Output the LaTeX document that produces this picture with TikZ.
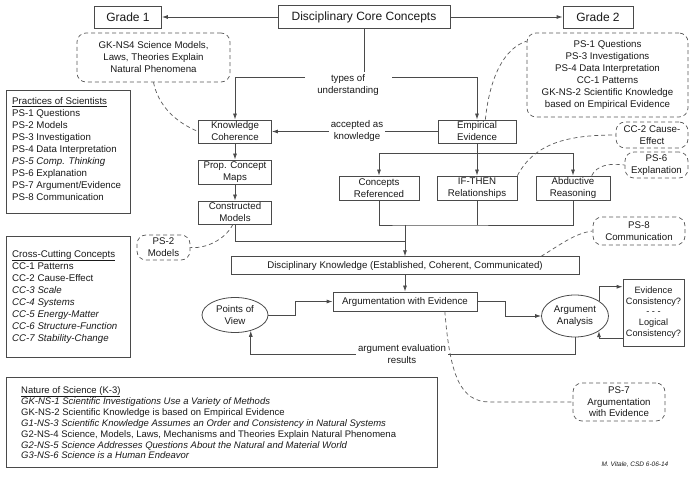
\documentclass[tikz,border=0pt]{standalone}
\usepackage{fontspec}
\setmainfont{Liberation Sans}
\usetikzlibrary{arrows.meta,calc,shapes.geometric}
\definecolor{lc}{HTML}{4A4A4A}
\definecolor{dc}{HTML}{5A5A5A}
\definecolor{tc}{HTML}{1A1A1A}
\begin{document}
\begin{tikzpicture}[x=1pt,y=-1pt,
  every node/.style={font=\fontsize{9.7}{12}\selectfont, text=tc},
  big/.style={font=\fontsize{12}{14}\selectfont},
  box/.style={draw=lc, line width=0.8pt, align=center, inner sep=0pt},
  callout/.style={draw=dc, line width=0.7pt, dash pattern=on 4pt off 3pt, rounded corners=9pt, align=center, inner sep=0pt},
  ell/.style={ellipse, draw=lc, line width=0.8pt, align=center, inner sep=0pt},
  frame/.style={draw=lc, line width=0.8pt, anchor=north west, inner sep=0pt},
  conn/.style={draw=lc, line width=0.8pt},
  arr/.style={conn, -{Latex[length=6pt,width=4pt]}},
  dconn/.style={draw=dc, line width=0.7pt, dash pattern=on 4pt off 3pt},
  lbl/.style={align=center, inner sep=2pt},
  listtext/.style={align=left, inner sep=0pt, anchor=north west},
]
\useasboundingbox[fill=white] (0,0) rectangle (694,481);

% top row
\node[box, big, minimum width=67pt, minimum height=22pt] (g1) at (128,17) {Grade 1};
\node[box, big, minimum width=172pt, minimum height=23pt] (dcc) at (364,17) {Disciplinary Core Concepts};
\node[box, big, minimum width=70pt, minimum height=22pt] (g2) at (598,17) {Grade 2};
\draw[arr] (dcc.west) -- (g1.east);
\draw[arr] (dcc.east) -- (g2.west);

% callouts
\node[callout, minimum width=153pt, minimum height=49pt] (ck) at (153.5,57.5) {GK-NS4 Science Models,\\Laws, Theories Explain\\Natural Phenomena};
\node[callout, minimum width=161pt, minimum height=84pt] (g2c) at (607.5,75) {PS-1 Questions\\PS-3 Investigations\\PS-4 Data Interpretation\\CC-1 Patterns\\GK-NS-2 Scientific Knowledge\\based on Empirical Evidence};
\node[callout, minimum width=72pt, minimum height=26pt] (cc2) at (652,135) {CC-2 Cause-\\Effect};
\node[callout, minimum width=63pt, minimum height=26pt] (ps6) at (656.5,165) {PS-6\\Explanation};
\node[callout, minimum width=92pt, minimum height=28pt] (ps8) at (639,231) {PS-8\\Communication};
\node[callout, minimum width=53pt, minimum height=25pt] (ps2) at (163.5,247.5) {PS-2\\Models};
\node[callout, minimum width=92pt, minimum height=38pt, font=\fontsize{9.7}{11.5}\selectfont] (ps7) at (619,402) {PS-7\\Argumentation\\with Evidence};

% types of understanding
\node[lbl] (types) at (348,85) {types of\\understanding};
\coordinate (tl) at (305,77);
\coordinate (tr) at (392,77);
\draw[conn] (dcc.south) -- (dcc.south |- types.north);

% left chain
\node[box, minimum width=73pt, minimum height=23pt] (kc) at (235,131.5) {Knowledge\\Coherence};
\node[box, minimum width=73pt, minimum height=24pt] (pcm) at (235,172) {Prop. Concept\\Maps};
\node[box, minimum width=73pt, minimum height=23pt] (cm) at (235,212.5) {Constructed\\Models};
\draw[arr] (tl) -| (kc.north);
\draw[arr] (kc) -- (pcm);
\draw[arr] (pcm) -- (cm);

% right chain
\node[box, minimum width=78pt, minimum height=23pt] (ee) at (477,131.5) {Empirical\\Evidence};
\draw[arr] (tr) -| (ee.north);
\node[lbl] (acc) at (357,131) {accepted as\\knowledge};
\draw[conn] (ee.west) -- (ee.west -| acc.east);
\draw[arr] (kc.east -| acc.west) -- (kc.east);

\node[box, minimum width=80pt, minimum height=24pt] (cr) at (379,188) {Concepts\\Referenced};
\node[box, minimum width=80pt, minimum height=24pt] (ift) at (477,188) {IF-THEN\\Relationships};
\node[box, minimum width=74pt, minimum height=24pt] (ar) at (573,188) {Abductive\\Reasoning};
\coordinate (eb) at (477,153);
\draw[conn] (ee.south) -- (eb);
\draw[arr] (eb) -| (cr.north);
\draw[arr] (eb) -| (ar.north);
\draw[arr] (eb) -- (ift.north);

% merge into disciplinary knowledge
\node[box, minimum width=348pt, minimum height=17.5pt] (dk) at (405,265.5) {Disciplinary Knowledge (Established, Coherent, Communicated)};
\coordinate (m1) at (405,225);
\coordinate (m2) at (405,241);
\draw[conn] (cr.south) |- (m1) -| (ar.south);
\draw[conn] (ift.south) -- (ift.south |- m1);
\draw[conn] (cm.south) |- (m2);
\draw[arr] (m1) -- (dk.north);

% argumentation
\node[box, minimum width=144pt, minimum height=19pt] (awe) at (405,301.5) {Argumentation with Evidence};
\draw[arr] (dk) -- (awe);
\node[ell, minimum width=66pt, minimum height=35pt] (pov) at (235,315) {Points of\\View};
\node[ell, minimum width=67pt, minimum height=42pt] (aa) at (575,316) {Argument\\Analysis};
\node[box, minimum width=61pt, minimum height=67pt, font=\fontsize{9.2}{10.6}\selectfont] (ec) at (653.5,312.5) {Evidence\\Consistency?\\- - -\\Logical\\Consistency?};
\draw[arr] (pov.east) -- ++(27,0) |- (awe.west);
\draw[arr] (awe.east) -- ++(28,0) |- (aa.west);
\draw[arr] (aa.north east) |- ($(ec.north west)!0.12!(ec.south west)$);
\draw[arr] ($(ec.north west)!0.88!(ec.south west)$) -| (aa.south east);
\node[lbl] (res) at (402,354) {argument evaluation\\results};
\draw[conn] (aa.south) |- (res.east);
\draw[arr] (res.west) -| (pov.-45);

% dashed connectors
\draw[dconn] (ck.south) .. controls (158,105) and (175,122) .. (kc.west);
\draw[dconn] (ee.55) .. controls (490,75) and (505,48) .. ($(g2c.north west)!0.1!(g2c.south west)$);
\draw[dconn] (ift.north east) .. controls (535,142) and (570,135) .. (cc2.west);
\draw[dconn] ($(ar.north)!0.5!(ar.north east)$) .. controls (597,165) and (610,163) .. (ps6.west);
\draw[dconn] ($(dk.north)!0.78!(dk.north east)$) .. controls (560,245) and (575,233) .. (ps8.west);
\draw[dconn] (cm.260) .. controls (225,240) and (205,249) .. (ps2.east);
\coordinate (p7) at (490,402);
\draw[dconn] ($(awe.south)!0.55!(awe.south east)$) .. controls (450,375) and (460,402) .. (p7) -- (ps7.west);

% lists
\node[frame, minimum width=124pt, minimum height=123pt] (psbox) at (6,90) {};
\node[listtext] (pstext) at (12,97) {\underline{Practices of Scientists}\\PS-1 Questions\\PS-2 Models\\PS-3 Investigation\\PS-4 Data Interpretation\\\textit{PS-5 Comp. Thinking}\\PS-6 Explanation\\PS-7 Argument/Evidence\\PS-8 Communication};
\node[frame, minimum width=124pt, minimum height=121pt] (ccbox) at (6,236) {};
\node[listtext] (cctext) at (12,250) {\underline{Cross-Cutting Concepts}\\CC-1 Patterns\\CC-2 Cause-Effect\\\textit{CC-3 Scale}\\\textit{CC-4 Systems}\\\textit{CC-5 Energy-Matter}\\\textit{CC-6 Structure-Function}\\\textit{CC-7 Stability-Change}};
\node[frame, minimum width=431pt, minimum height=90pt] (nosbox) at (6,377) {};
\node[listtext, font=\fontsize{9.5}{10.8}\selectfont] (nostext) at (21,386) {\underline{Nature of Science (K-3)}\\\textit{GK-NS-1 Scientific Investigations Use a Variety of Methods}\\GK-NS-2 Scientific Knowledge is based on Empirical Evidence\\\textit{G1-NS-3 Scientific Knowledge Assumes an Order and Consistency in Natural Systems}\\G2-NS-4 Science, Models, Laws, Mechanisms and Theories Explain Natural Phenomena\\\textit{G2-NS-5 Science Addresses Questions About the Natural and Material World}\\\textit{G3-NS-6 Science is a Human Endeavor}};

\node[font=\fontsize{6.5}{8}\selectfont\itshape] (sig) at (635,465) {M. Vitale, CSD 6-06-14};
\end{tikzpicture}
\end{document}
